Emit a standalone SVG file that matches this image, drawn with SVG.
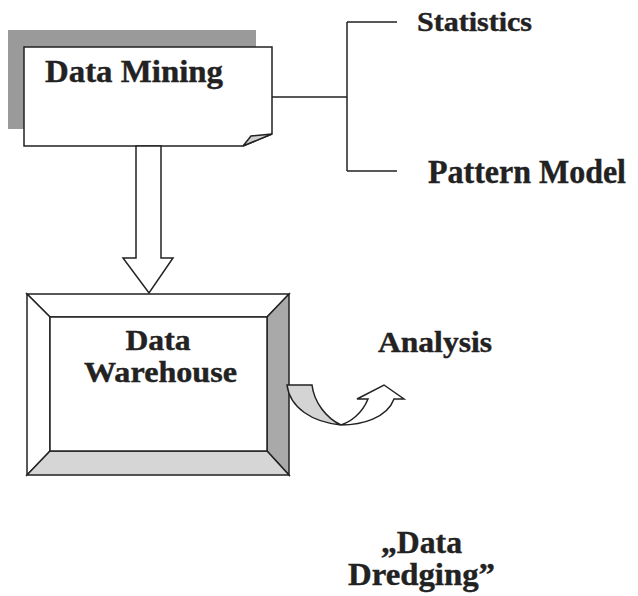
<svg xmlns="http://www.w3.org/2000/svg" width="638" height="596" viewBox="0 0 638 596">
<style>
.t{font-family:"Liberation Serif","Times New Roman",serif;font-weight:bold;fill:#222;stroke:#222;stroke-width:0.4}
.ln{fill:none;stroke:#222;stroke-width:1.5}
.sh{stroke:#222;stroke-width:1.5;stroke-linejoin:miter}
</style>
<rect width="638" height="596" fill="#fff"/>
<g id="data-mining">
<rect x="8" y="30" width="248" height="99" fill="#9a9a9a"/>
<path class="sh" d="M24,47 L272,47 L272,134 L243,146 L24,146 Z" fill="#fff"/>
<polygon class="sh" points="243,146 272,134 251,136" fill="#cfcfcf" stroke-width="1"/>
<text class="t" x="45" y="82" font-size="31" textLength="178" lengthAdjust="spacingAndGlyphs">Data Mining</text>
</g>
<g id="statistics">
<text class="t" x="417" y="31" font-size="27" textLength="115" lengthAdjust="spacingAndGlyphs">Statistics</text>
</g>
<g id="pattern-model">
<text class="t" x="428" y="183" font-size="33" textLength="198" lengthAdjust="spacingAndGlyphs">Pattern Model</text>
</g>
<g id="data-warehouse">
<polygon class="sh" points="27,294 289,294 267,317 50,317" fill="#fff"/>
<polygon class="sh" points="27,294 50,317 50,451 27,475" fill="#fff"/>
<polygon class="sh" points="289,294 289,475 267,451 267,317" fill="#a9a9a9"/>
<polygon class="sh" points="27,475 289,475 267,451 50,451" fill="#d6d6d6"/>
<rect class="sh" x="50" y="317" width="217" height="134" fill="#fff"/>
<text class="t" x="158" y="350" font-size="30" text-anchor="middle" textLength="65" lengthAdjust="spacingAndGlyphs">Data</text>
<text class="t" x="84" y="382" font-size="30" textLength="153" lengthAdjust="spacingAndGlyphs">Warehouse</text>
</g>
<g id="analysis">
<text class="t" x="378" y="352" font-size="30" textLength="114" lengthAdjust="spacingAndGlyphs">Analysis</text>
</g>
<g id="data-dredging">
<text class="t" x="381" y="553" font-size="31" textLength="81" lengthAdjust="spacingAndGlyphs">„Data</text>
<text class="t" x="348" y="585" font-size="31" textLength="147" lengthAdjust="spacingAndGlyphs">Dredging”</text>
</g>
<g id="connectors">
<polygon class="sh" points="136,146 161,146 161,258 173,258 149,293 123,258 136,258" fill="#fff"/>
<path class="ln" d="M272,97 H347 M347,22 V171 M347,22 H397 M347,171 H397"/>
<path class="sh" d="M287,385 L312,385 C314,402 326,418 341,425 C312,422 290,408 287,385 Z" fill="#d4d4d4"/>
<path class="sh" d="M341,425 C362,425 387,418 394,399 L404,399 L384,385 L357,399 L368,399 C362,414 350,422 341,425 Z" fill="#fff"/>
</g>
</svg>
